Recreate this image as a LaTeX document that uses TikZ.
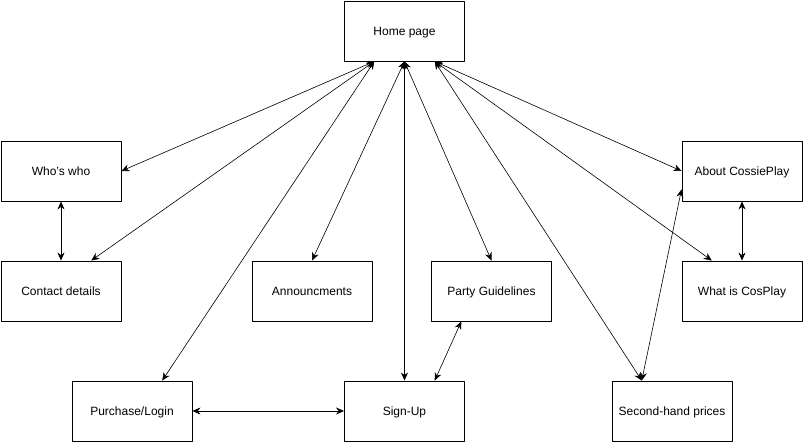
\documentclass[tikz,border=0pt]{standalone}
\usepackage{fontspec}
\setmainfont{Liberation Sans}
\usepackage{tikz}
\usetikzlibrary{arrows.meta,calc,positioning}
\tikzset{%
         page/.style = { draw, line width=0.9pt, minimum width=120pt, minimum height=60pt, inner sep=0pt, text height=10.5pt, text depth=2pt, font=\fontsize{12}{14}\selectfont },
         link/.style = { line width=0.6pt, {Stealth[length=8pt,width=7pt]}-{Stealth[length=8pt,width=7pt]} }
}
\begin{document}
\begin{tikzpicture}[x=1pt,y=-1pt,line cap=round,line join=round]
\useasboundingbox (0,0) rectangle (804,444);
% pages
\node[page] (home) at (404.5,31) {Home page};
\node[page] (whos) at (61,171) {Who's who};
\node[page] (contact) at (61,291) {Contact details};
\node[page] (announce) at (312,291) {Announcments};
\node[page] (party) at (491.5,291) {Party Guidelines};
\node[page] (about) at (742,171) {About CossiePlay};
\node[page] (whatis) at (742,291) {What is CosPlay};
\node[page] (purchase) at (132,411) {Purchase/Login};
\node[page] (signup) at (404.5,411) {Sign-Up};
\node[page] (secondhand) at (672,411) {Second-hand prices};
% ports
\coordinate (homeL) at ($(home.south west)!0.25!(home.south east)$);
\coordinate (homeR) at ($(home.south west)!0.75!(home.south east)$);
\coordinate (contactT) at ($(contact.north west)!0.75!(contact.north east)$);
\coordinate (purchaseT) at ($(purchase.north west)!0.75!(purchase.north east)$);
\coordinate (whatisT) at ($(whatis.north west)!0.25!(whatis.north east)$);
\coordinate (signupT) at ($(signup.north west)!0.75!(signup.north east)$);
\coordinate (partyB) at ($(party.south west)!0.25!(party.south east)$);
\coordinate (secondT) at ($(secondhand.north west)!0.25!(secondhand.north east)$);
\coordinate (aboutW) at ($(about.north west)!0.8!(about.south west)$);
% links
\draw[link] (homeL) -- (whos.east);
\draw[link] (homeL) -- (contactT);
\draw[link] (homeL) -- (purchaseT);
\draw[link] (home.south) -- (announce.north);
\draw[link] (home.south) -- (signup.north);
\draw[link] (home.south) -- (party.north);
\draw[link] (homeR) -- (about.west);
\draw[link] (homeR) -- (whatisT);
\draw[link] (homeR) -- (secondT);
\draw[link] (whos.south) -- (contact.north);
\draw[link] (about.south) -- (whatis.north);
\draw[link] (purchase.east) -- (signup.west);
\draw[link] (signupT) -- (partyB);
\draw[link] (secondT) -- (aboutW);
\end{tikzpicture}
\end{document}
